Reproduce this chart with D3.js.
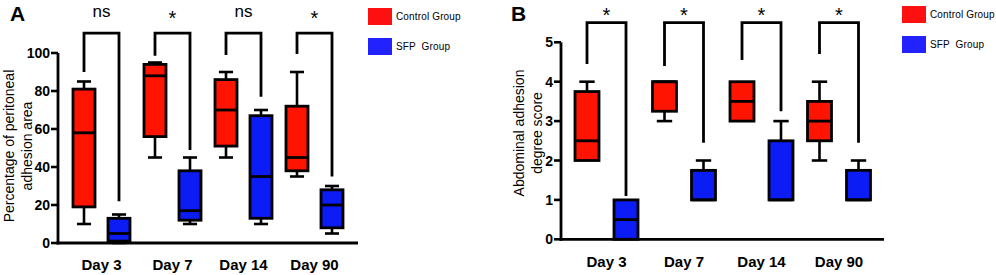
<!DOCTYPE html>
<html>
<head>
<meta charset="utf-8">
<script src="https://cdn.jsdelivr.net/npm/d3@7"></script>
<style>
  body { margin: 0; background: #fff; }
  text { font-family: "Liberation Sans", Arial, sans-serif; }
</style>
</head>
<body>
<svg id="chart" width="996" height="275"></svg>
<script>
// ---------- data ----------
const days = ["Day 3", "Day 7", "Day 14", "Day 90"];
const groups = ["Control Group", "SFP  Group"];

// [min, q1, median, q3, max] per day
const areaControl = [[10, 19, 58, 81, 85], [45, 56, 88, 94, 95], [45, 51, 70, 86, 90], [35, 38, 45, 72, 90]];
const areaSFP     = [[0, 1, 5, 13, 15], [10, 12, 17, 38, 45], [10, 13, 35, 67, 70], [5, 8, 20, 28, 30]];
const areaSig = ["ns", "*", "ns", "*"];
const areaBracketTop = 110.5;
const areaBracketLeft = [90, 98.5, 99, 99.5];
const areaBracketRight = [22, 49, 77, 35];
const areaTicks = [0, 20, 40, 60, 80, 100];

const scoreControl = [[2, 2, 2.5, 3.75, 4], [3, 3.25, 4, 4, 4], [3, 3, 3.5, 4, 4], [2, 2.5, 3, 3.5, 4]];
const scoreSFP     = [[0, 0, 0.5, 1, 1], [1, 1, 1, 1.75, 2], [1, 1, 1, 2.5, 3], [1, 1, 1, 1.75, 2]];
const scoreSig = ["*", "*", "*", "*"];
const scoreBracketTop = 5.5;
const scoreBracketLeft = [4.45, 4.4, 4.55, 4.7];
const scoreBracketRight = [1.1, 2.45, 3.25, 2.45];
const scoreTicks = [0, 1, 2, 3, 4, 5];

const colors = ["#fe1400", "#0c1cf4"];
const legendColors = ["#ff1010", "#2222ff"];

const svg = d3.select("#chart");

function drawPanel(cfg) {
  const g = svg.append("g");
  const y = d3.scaleLinear().domain([0, cfg.ymax]).range([cfg.y0, cfg.y1]);
  const x = d3.scaleBand().domain(days).range([cfg.xb0, cfg.xb1]);
  const sub = d3.scalePoint().domain(groups).range([-cfg.off, cfg.off]);
  const w = cfg.boxW;

  // axes
  g.append("line")
    .attr("x1", cfg.axX).attr("x2", cfg.axX)
    .attr("y1", y(cfg.ymax)).attr("y2", y(0) + 1.4)
    .attr("stroke", "#000").attr("stroke-width", 2.8);
  g.append("line")
    .attr("x1", cfg.axX - 1.4).attr("x2", cfg.axEnd)
    .attr("y1", y(0)).attr("y2", y(0))
    .attr("stroke", "#000").attr("stroke-width", 2.8);

  g.selectAll("line.tick").data(cfg.ticks).join("line")
    .attr("x1", cfg.axX - 7).attr("x2", cfg.axX)
    .attr("y1", d => y(d)).attr("y2", d => y(d))
    .attr("stroke", "#000").attr("stroke-width", 2.6);
  g.selectAll("text.tick").data(cfg.ticks).join("text")
    .attr("x", cfg.axX - 8).attr("y", d => y(d))
    .attr("dy", "0.36em")
    .attr("text-anchor", "end")
    .attr("font-size", "14px").attr("font-weight", "bold")
    .text(d => d);

  // x labels
  g.selectAll("text.day").data(days).join("text")
    .attr("x", d => x(d) + x.bandwidth() / 2)
    .attr("y", cfg.labelY)
    .attr("text-anchor", "middle")
    .attr("font-size", "15px").attr("font-weight", "bold")
    .text(d => d);

  // y title
  const ty = g.append("text")
    .attr("transform", `translate(${cfg.titleX},${cfg.titleY}) rotate(-90)`)
    .attr("text-anchor", "middle")
    .attr("font-size", "14px");
  ty.append("tspan").attr("x", 0).attr("dy", 0).text(cfg.title[0]);
  ty.append("tspan").attr("x", 0).attr("dy", "1.3em").text(cfg.title[1]);

  // panel letter
  g.append("text")
    .attr("x", cfg.letterX).attr("y", 21)
    .attr("font-size", "21px").attr("font-weight", "bold")
    .text(cfg.letter);

  // boxes
  [cfg.control, cfg.sfp].forEach((series, gi) => {
    series.forEach((s, i) => {
      const cx = x(days[i]) + x.bandwidth() / 2 + sub(groups[gi]);
      const [mn, q1, md, q3, mx] = s;
      const bg = g.append("g");
      if (mx > q3) {
        bg.append("line").attr("x1", cx).attr("x2", cx).attr("y1", y(mx)).attr("y2", y(q3))
          .attr("stroke", "#000").attr("stroke-width", 2.6);
        bg.append("line").attr("x1", cx - w * 0.32).attr("x2", cx + w * 0.32).attr("y1", y(mx)).attr("y2", y(mx))
          .attr("stroke", "#000").attr("stroke-width", 2.6);
      }
      if (mn < q1) {
        bg.append("line").attr("x1", cx).attr("x2", cx).attr("y1", y(q1)).attr("y2", y(mn))
          .attr("stroke", "#000").attr("stroke-width", 2.6);
        bg.append("line").attr("x1", cx - w * 0.32).attr("x2", cx + w * 0.32).attr("y1", y(mn)).attr("y2", y(mn))
          .attr("stroke", "#000").attr("stroke-width", 2.6);
      }
      bg.append("rect")
        .attr("x", cx - w / 2).attr("width", w)
        .attr("y", y(q3)).attr("height", y(q1) - y(q3))
        .attr("fill", colors[gi]).attr("stroke", "#000").attr("stroke-width", 2.8);
      bg.append("line").attr("x1", cx - w / 2).attr("x2", cx + w / 2).attr("y1", y(md)).attr("y2", y(md))
        .attr("stroke", "#000").attr("stroke-width", 2.8);
    });
  });

  // significance brackets
  days.forEach((d, i) => {
    const xl = x(d) + x.bandwidth() / 2 + sub(groups[0]);
    const xr = x(d) + x.bandwidth() / 2 + sub(groups[1]);
    g.append("path")
      .attr("d", `M${xl},${y(cfg.bLeft[i])}V${y(cfg.bTop)}H${xr}V${y(cfg.bRight[i])}`)
      .attr("fill", "none").attr("stroke", "#000").attr("stroke-width", 2.8);
    const star = cfg.sig[i] === "*";
    g.append("text")
      .attr("x", x(d) + x.bandwidth() / 2)
      .attr("y", star ? cfg.sigY + 8 : cfg.sigY)
      .attr("text-anchor", "middle")
      .attr("font-size", star ? "20px" : "17px")
      .text(cfg.sig[i]);
  });

  // legend
  groups.forEach((name, gi) => {
    g.append("rect")
      .attr("x", cfg.legX).attr("y", cfg.legY + gi * 30)
      .attr("width", 24).attr("height", 17)
      .attr("fill", legendColors[gi]);
    g.append("text")
      .attr("x", cfg.legX + 28).attr("y", cfg.legY + gi * 30 + 8.5)
      .attr("dy", "0.35em")
      .attr("font-size", "10px")
      .attr("letter-spacing", "0.15px")
      .attr("xml:space", "preserve")
      .style("white-space", "pre")
      .text(name);
  });
}

drawPanel({
  letter: "A", letterX: 10,
  ymax: 100, y0: 243, y1: 53, ticks: areaTicks,
  axX: 58, axEnd: 358, xb0: 66, xb1: 350, off: 17.5, boxW: 22,
  labelY: 270, titleX: 14, titleY: 146,
  title: ["Percentage of peritoneal", "adhesion area"],
  control: areaControl, sfp: areaSFP,
  sig: areaSig, sigY: 17, bTop: areaBracketTop, bLeft: areaBracketLeft, bRight: areaBracketRight,
  legX: 368, legY: 8
});

drawPanel({
  letter: "B", letterX: 511,
  ymax: 5, y0: 239.3, y1: 42.3, ticks: scoreTicks,
  axX: 561, axEnd: 884, xb0: 567.75, xb1: 877.75, off: 19.5, boxW: 24,
  labelY: 267, titleX: 524, titleY: 133,
  title: ["Abdominal adhesion", "degree score"],
  control: scoreControl, sfp: scoreSFP,
  sig: scoreSig, sigY: 14, bTop: scoreBracketTop, bLeft: scoreBracketLeft, bRight: scoreBracketRight,
  legX: 902, legY: 6
});
</script>
</body>
</html>
